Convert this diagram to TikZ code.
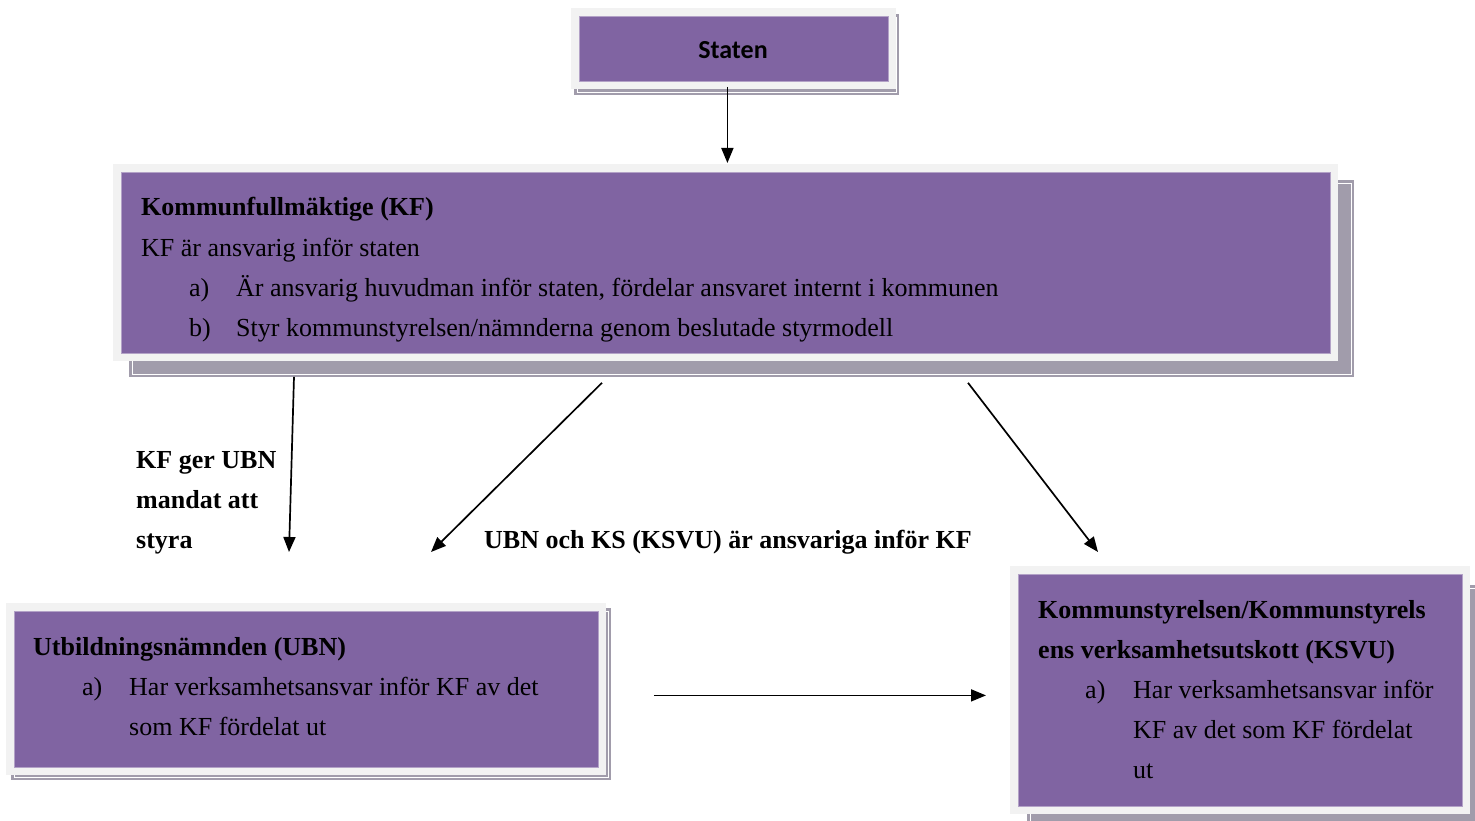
\documentclass[tikz,border=0pt]{standalone}
\usepackage{fontspec}
\setmainfont{Liberation Serif}
\newfontfamily\statenfont{Carlito}
\usetikzlibrary{arrows.meta}
\definecolor{boxpurple}{HTML}{8064A2}
\definecolor{boxedge}{HTML}{B3A2C7}
\definecolor{framegray}{HTML}{F2F2F2}
\definecolor{shadowgray}{HTML}{A19CAB}
\tikzset{
  purplebox/.style={draw=boxedge, line width=0.8pt, fill=boxpurple, inner sep=0pt, anchor=north west},
  txt/.style={anchor=base west, inner sep=0pt, font=\fontsize{26}{40}\selectfont},
  btxt/.style={txt, font=\fontsize{26}{40}\selectfont\bfseries},
  arr/.style={line width=1.7pt, -{Triangle[length=15pt,width=12pt]}},
}
% #1 name, #2 x1, #3 y1, #4 w, #5 h, #6 dx, #7 dy
\newcommand\purplepanel[7]{%
  \fill[shadowgray] (#2-8+#6,#3-8+#7) rectangle ++(#4+16,#5+16);
  \draw[white, line width=0.8pt] (#2-5+#6,#3-5+#7) rectangle ++(#4+10,#5+10);
  \fill[framegray] (#2-8,#3-8) rectangle ++(#4+16,#5+16);
  \node[purplebox, minimum width=#4pt, minimum height=#5pt] (#1) at (#2,#3) {};
}
\begin{document}
\begin{tikzpicture}[x=1pt,y=-1pt]
\useasboundingbox (0,0) rectangle (1475,821);
\fill[white] (0,0) rectangle (1475,821);

\purplepanel{staten}{579}{16}{309}{65}{3}{6}
\purplepanel{kf}{121}{172}{1209}{181}{16}{16}
\purplepanel{ubn}{14}{611}{584}{156}{5}{5}
\purplepanel{ksvu}{1018}{574}{444}{232}{17}{19}

\node[inner sep=0pt, font=\statenfont\fontsize{26}{30}\selectfont\bfseries] (statentext) at (733,50) {Staten};

% KF text
\node[btxt] (kf1) at (141,216) {Kommunfullmäktige (KF)};
\node[txt] (kf2) at (141,256) {KF är ansvarig inför staten};
\node[txt] (kfa) at (189,296) {a)};
\node[txt] (kfat) at (236,296) {Är ansvarig huvudman inför staten, fördelar ansvaret internt i kommunen};
\node[txt] (kfb) at (189,336) {b)};
\node[txt] (kfbt) at (236,336) {Styr kommunstyrelsen/nämnderna genom beslutade styrmodell};

% UBN text
\node[btxt] (ubn1) at (33,655) {Utbildningsnämnden (UBN)};
\node[txt] (ubna) at (82,695) {a)};
\node[txt] (ubnat) at (129,695) {Har verksamhetsansvar inför KF av det};
\node[txt] (ubnat2) at (129,735) {som KF fördelat ut};

% KSVU text
\node[btxt] (ks1) at (1038,618) {Kommunstyrelsen/Kommunstyrels};
\node[btxt] (ks2) at (1038,658) {ens verksamhetsutskott (KSVU)};
\node[txt] (ksa) at (1085,698) {a)};
\node[txt] (ksat) at (1133,698) {Har verksamhetsansvar inför};
\node[txt] (ksat2) at (1133,738) {KF av det som KF fördelat};
\node[txt] (ksat3) at (1133,778) {ut};

% labels
\node[btxt] (l1) at (136,468) {KF ger UBN};
\node[btxt] (l2) at (136,508) {mandat att};
\node[btxt] (l3) at (136,548) {styra};
\node[btxt] (l4) at (484,548) {UBN och KS (KSVU) är ansvariga inför KF};

% arrows
\draw[arr] ([xshift=-6.5pt,yshift=-5pt]staten.south) -- ([xshift=1.5pt,yshift=9pt]kf.north);
\draw[arr] ([xshift=173pt,yshift=-23pt]kf.south west) -- ([xshift=275pt,yshift=59pt]ubn.north west);
\draw[arr] ([xshift=481pt,yshift=-29pt]kf.south west) -- ([xshift=417pt,yshift=59pt]ubn.north west);
\draw[arr] ([xshift=847pt,yshift=-29pt]kf.south west) -- ([xshift=80pt,yshift=22pt]ksvu.north west);
\draw[arr] ([xshift=55pt,yshift=-6pt]ubn.east) -- ([xshift=-32pt,yshift=-5pt]ksvu.west);
\end{tikzpicture}
\end{document}
